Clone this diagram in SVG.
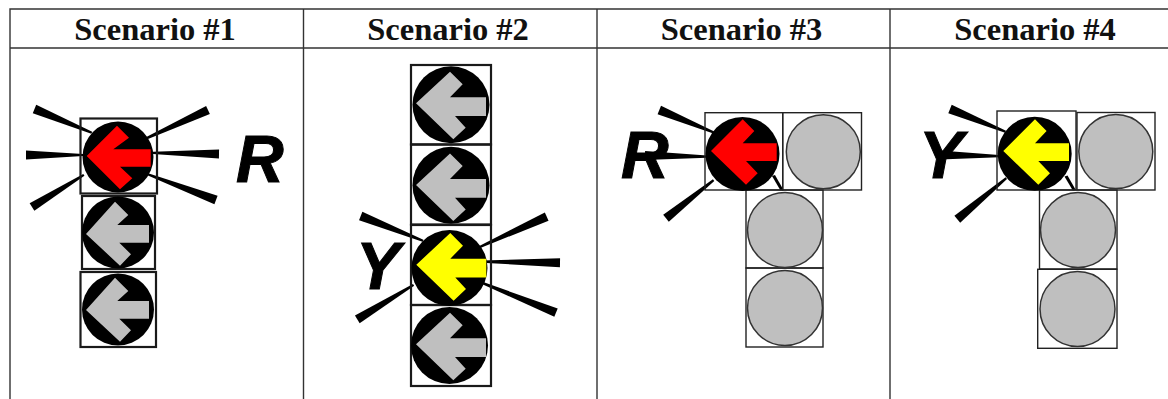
<svg xmlns="http://www.w3.org/2000/svg" width="1168" height="399" viewBox="0 0 1168 399">
<style>
.grid{stroke:#333;stroke-width:1.4;fill:none}
.hd{font-family:"Liberation Serif","Times New Roman",serif;font-weight:bold;font-size:32.500px;fill:#111;text-anchor:middle}
.sig{font-family:"Liberation Sans",Arial,sans-serif;font-weight:bold;font-style:italic;font-size:66px;fill:#000;stroke:#000;stroke-width:1}
.box{fill:none;stroke:#1a1a1a;stroke-width:2.200}
.box2{fill:none;stroke:#222;stroke-width:1.400}
.lens{fill:#000}
.off{fill:#bfbfbf;stroke:#333;stroke-width:1.500}
.g{fill:#bfbfbf}.r{fill:#f00}.y{fill:#ff0}
.ray{fill:#000}
</style>
<defs>
<polygon id="a1" points="0,0 30.3,-30.3 42.3,-18.3 26.6,-6.7 64,-6.7 64,10.7 33.3,10.7 45.6,22.3 33.3,33.3"/>
<polygon id="a1g" points="0,0 29,-32.3 42.3,-19 31.3,-9 63,-9 63,8.7 33.3,8.7 45,20.3 34,31.7"/>
<polygon id="a2" points="0,0 34,-31.6 46.7,-19 34,-6 70,-6 70,12.7 39,12.7 49.7,24.4 37.3,36"/>
<polygon id="a3" points="0,0 31.7,-31.7 43.3,-20 31.7,-7.7 65.7,-7.7 65.7,10 35,10 46.7,22.3 35,33.7"/>
</defs>
<rect width="1168" height="399" fill="#fff"/>
<g id="table">
<path class="grid" d="M1168 9H10V399M10 48H1168M303.500 9V399M597 9V399M890 9V399"/>
<text class="hd" x="155" y="40">Scenario #1</text>
<text class="hd" x="448" y="40">Scenario #2</text>
<text class="hd" x="741.500" y="40">Scenario #3</text>
<text class="hd" x="1035" y="40">Scenario #4</text>
</g>
<g id="scenario1">
<polygon class="ray" points="0,-4.500 62,-1.100 62,1.100 0,4.500" transform="translate(34.500 109) rotate(22.500)"/>
<polygon class="ray" points="0,-4.500 57,-1.100 57,1.100 0,4.500" transform="translate(26 155)"/>
<polygon class="ray" points="0,-4.500 61,-1.100 61,1.100 0,4.500" transform="translate(32 207) rotate(-31.800)"/>
<polygon class="ray" points="0,-4.500 70,-1.100 70,1.100 0,4.500" transform="translate(208 110) rotate(155.300)"/>
<polygon class="ray" points="0,-4.500 66,-1.100 66,1.100 0,4.500" transform="translate(219 154) rotate(180.900)"/>
<polygon class="ray" points="0,-4.500 73,-1.100 73,1.100 0,4.500" transform="translate(216 200) rotate(200.700)"/>
<rect class="box" x="80.500" y="118.500" width="76.500" height="75"/>
<rect class="box" x="82" y="196" width="73" height="73"/>
<rect class="box" x="80.500" y="272" width="75.500" height="75"/>
<circle class="lens" cx="118" cy="157" r="35.500"/>
<circle class="lens" cx="118" cy="232.500" r="36"/>
<circle class="lens" cx="118" cy="309.500" r="36"/>
<use href="#a1" class="r" x="86.700" y="156"/>
<use href="#a1g" class="g" x="86" y="234"/>
<use href="#a1g" class="g" x="86" y="310"/>
<text class="sig" x="236" y="182">R</text>
</g>
<g id="scenario2">
<polygon class="ray" points="0,-4.500 67,-1.100 67,1.100 0,4.500" transform="translate(360.700 216) rotate(21.700)"/>
<polygon class="ray" points="0,-4.500 66,-1.100 66,1.100 0,4.500" transform="translate(357.300 319.300) rotate(-31.500)"/>
<polygon class="ray" points="0,-4.500 74,-1.100 74,1.100 0,4.500" transform="translate(546.700 216.700) rotate(155.700)"/>
<polygon class="ray" points="0,-4.500 78,-1.100 78,1.100 0,4.500" transform="translate(560 262.700) rotate(180.800)"/>
<polygon class="ray" points="0,-4.500 79,-1.100 79,1.100 0,4.500" transform="translate(556 312.700) rotate(202)"/>
<rect class="box" x="411" y="65" width="80" height="79.500"/>
<rect class="box" x="411" y="144.500" width="80" height="80"/>
<rect class="box" x="411" y="225" width="80" height="80"/>
<rect class="box" x="411" y="305" width="80" height="81"/>
<circle class="lens" cx="451" cy="104.700" r="38.500"/>
<circle class="lens" cx="451" cy="185.300" r="38.500"/>
<circle class="lens" cx="449.500" cy="268" r="38"/>
<circle class="lens" cx="449.500" cy="345.500" r="38.500"/>
<use href="#a2" class="g" x="416" y="103.300"/>
<use href="#a2" class="g" x="416" y="185"/>
<use href="#a2" class="y" x="416.300" y="264.700"/>
<use href="#a2" class="g" x="416" y="344.300"/>
<text class="sig" x="356" y="289">Y</text>
</g>
<g id="scenario3">
<polygon class="ray" points="0,-4.500 59,-1.100 59,1.100 0,4.500" transform="translate(659.300 110) rotate(22.500)"/>
<polygon class="ray" points="0,-4.500 62,-1.100 62,1.100 0,4.500" transform="translate(645 155.500) rotate(1)"/>
<polygon class="ray" points="0,-4.500 61,-1.100 61,1.100 0,4.500" transform="translate(666 218.300) rotate(-38.700)"/>
<polygon class="ray" points="772,176 775,175 783.500,190 780.500,190.500"/>
<rect class="box2" x="705" y="112.700" width="77.700" height="77.300"/>
<rect class="box2" x="782.700" y="112.700" width="78.800" height="77.300"/>
<rect class="box2" x="746" y="190" width="77" height="78"/>
<rect class="box2" x="746" y="268" width="77" height="79"/>
<circle class="lens" cx="742.500" cy="154" r="37"/>
<circle class="off" cx="823.300" cy="151.700" r="37"/>
<circle class="off" cx="785" cy="230" r="37.500"/>
<circle class="off" cx="785" cy="308" r="37.500"/>
<use href="#a3" class="r" x="711" y="151"/>
<text class="sig" x="621" y="177.500">R</text>
</g>
<g id="scenario4">
<polygon class="ray" points="0,-4.500 60,-1.100 60,1.100 0,4.500" transform="translate(950 109) rotate(22.200)"/>
<polygon class="ray" points="0,-4.500 59,-1.100 59,1.100 0,4.500" transform="translate(940 155) rotate(1)"/>
<polygon class="ray" points="0,-4.500 64,-1.100 64,1.100 0,4.500" transform="translate(957.300 219.300) rotate(-40)"/>
<polygon class="ray" points="1064.500,176.500 1067.500,175.500 1075.800,190 1072.800,190.500"/>
<rect class="box2" x="997" y="111" width="79" height="79"/>
<rect class="box2" x="1077" y="112.500" width="78" height="77.500"/>
<rect class="box2" x="1039.500" y="190" width="77.500" height="79"/>
<rect class="box2" x="1037.700" y="269.300" width="79.300" height="79"/>
<circle class="lens" cx="1034.700" cy="153.800" r="37"/>
<circle class="off" cx="1115.800" cy="151.500" r="37"/>
<circle class="off" cx="1078" cy="230" r="37.500"/>
<circle class="off" cx="1077.500" cy="309" r="37.500"/>
<use href="#a3" class="y" x="1003.300" y="151"/>
<text class="sig" x="919" y="177.500">Y</text>
</g>
</svg>
